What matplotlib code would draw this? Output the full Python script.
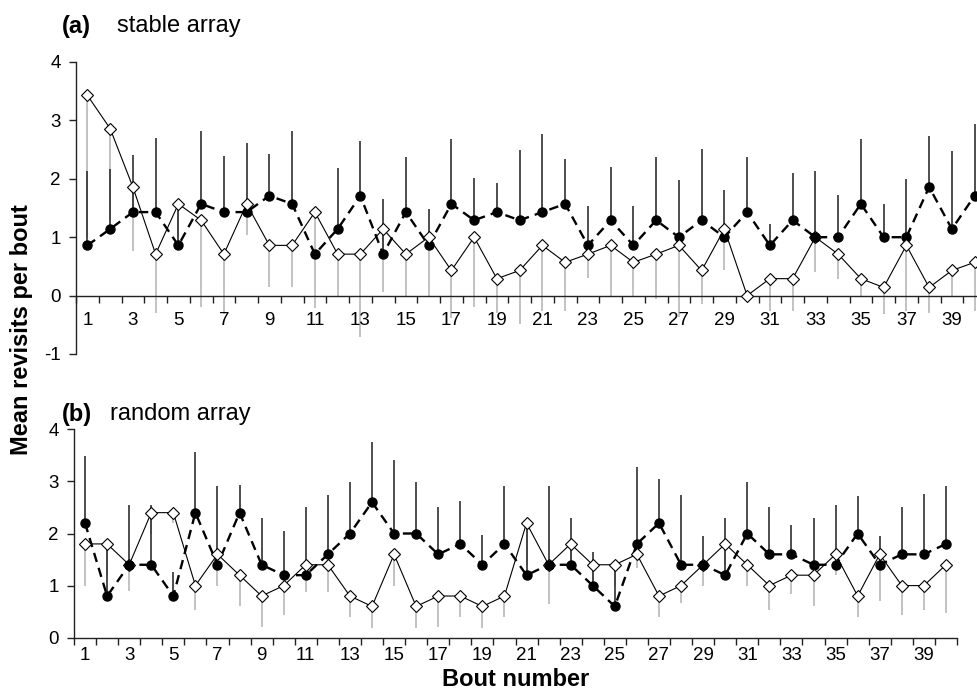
import numpy as np
import matplotlib
matplotlib.use("Agg")
import matplotlib.pyplot as plt

plt.rcParams['font.family'] = ['Liberation Sans', 'DejaVu Sans']
plt.rcParams['axes.unicode_minus'] = False

bouts = np.arange(1, 41)
tick_labels = [str(b) for b in range(1, 41, 2)]

# (a) stable array
stable_filled = [0.86, 1.14, 1.43, 1.43, 0.86, 1.57, 1.43, 1.43, 1.71, 1.57,
                 0.71, 1.14, 1.71, 0.71, 1.43, 0.86, 1.57, 1.29, 1.43, 1.29,
                 1.43, 1.57, 0.86, 1.29, 0.86, 1.29, 1.00, 1.29, 1.00, 1.43,
                 0.86, 1.29, 1.00, 1.00, 1.57, 1.00, 1.00, 1.86, 1.14, 1.71]
stable_filled_upper = [2.14, 2.16, 2.40, 2.70, 1.57, 2.81, 2.39, 2.61, 2.43, 2.82,
                       0.78, 2.19, 2.64, 1.66, 2.38, 1.49, 2.69, 2.01, 1.93, 2.49,
                       2.77, 2.34, 1.53, 2.21, 1.53, 2.38, 1.98, 2.51, 1.81, 2.38,
                       1.23, 2.10, 2.14, 1.73, 2.69, 1.56, 1.99, 2.74, 2.47, 2.94]
stable_open = [3.43, 2.86, 1.86, 0.71, 1.57, 1.29, 0.71, 1.57, 0.86, 0.86,
               1.43, 0.71, 0.71, 1.14, 0.71, 1.00, 0.43, 1.00, 0.29, 0.43,
               0.86, 0.57, 0.71, 0.86, 0.57, 0.71, 0.86, 0.43, 1.14, 0.00,
               0.29, 0.29, 1.00, 0.71, 0.29, 0.14, 0.86, 0.14, 0.43, 0.57]
stable_open_lower = [1.00, 1.30, 0.77, -0.29, 1.00, -0.20, -0.31, 1.03, 0.15, 0.14,
                     -0.21, 0.00, -0.71, 0.07, 0.00, 0.00, -0.38, -0.19, -0.29, -0.49,
                     -0.26, -0.26, 0.30, 0.00, 0.00, -0.06, -0.37, -0.14, 0.44, 0.00,
                     -0.26, -0.26, 0.40, 0.29, 0.00, -0.31, -0.26, -0.29, 0.00, -0.26]

# (b) random array
random_filled = [2.2, 0.8, 1.4, 1.4, 0.8, 2.4, 1.4, 2.4, 1.4, 1.2,
                 1.2, 1.6, 2.0, 2.6, 2.0, 2.0, 1.6, 1.8, 1.4, 1.8,
                 1.2, 1.4, 1.4, 1.0, 0.6, 1.8, 2.2, 1.4, 1.4, 1.2,
                 2.0, 1.6, 1.6, 1.4, 1.4, 2.0, 1.4, 1.6, 1.6, 1.8]
random_filled_upper = [3.49, 1.80, 2.55, 2.55, 1.26, 3.56, 2.91, 2.94, 2.30, 2.05,
                       2.51, 2.74, 2.99, 3.75, 3.41, 2.99, 2.50, 2.63, 1.97, 2.91,
                       2.20, 2.91, 2.30, 1.65, 1.40, 3.27, 3.05, 2.74, 1.96, 2.29,
                       2.99, 2.50, 2.16, 2.30, 2.55, 2.72, 1.96, 2.50, 2.75, 2.91]
random_open = [1.8, 1.8, 1.4, 2.4, 2.4, 1.0, 1.6, 1.2, 0.8, 1.0,
               1.4, 1.4, 0.8, 0.6, 1.6, 0.6, 0.8, 0.8, 0.6, 0.8,
               2.2, 1.4, 1.8, 1.4, 1.4, 1.6, 0.8, 1.0, 1.4, 1.8,
               1.4, 1.0, 1.2, 1.2, 1.6, 0.8, 1.6, 1.0, 1.0, 1.4]
random_open_lower = [1.00, 1.20, 0.90, 2.00, 2.20, 0.54, 1.00, 0.61, 0.21, 0.44,
                     0.88, 0.88, 0.40, 0.19, 0.99, 0.19, 0.21, 0.40, 0.19, 0.40,
                     1.40, 0.64, 1.50, 1.10, 1.00, 1.34, 0.40, 0.66, 1.00, 1.40,
                     1.00, 0.54, 0.83, 0.61, 1.20, 0.40, 0.71, 0.44, 0.53, 0.47]

W, H = 978, 700
fig = plt.figure(figsize=(W / 100, H / 100), dpi=100)

# axes rectangles in pixel terms: left, top (y of ymax), right (x of 40.5), bottom (y of ymin)
ax_a = fig.add_axes([76 / W, (H - 354) / H, (986 - 76) / W, (354 - 62) / H])
ax_b = fig.add_axes([74 / W, (H - 637.7) / H, (957 - 74) / W, (637.7 - 429.3) / H])

TICK_FS = 13.5


def draw_panel(ax, filled, filled_up, opn, opn_low):
    filled = np.asarray(filled)
    opn = np.asarray(opn)
    ax.vlines(bouts, opn, opn_low, colors='#b8b8b8', lw=1.2, zorder=1)
    ax.vlines(bouts, filled, filled_up, colors='#303030', lw=1.2, zorder=2)
    ax.plot(bouts, filled, color='black', lw=1.7, dashes=(4, 2.6),
            marker='o', ms=6.5, mfc='black', mec='black', zorder=3)
    ax.plot(bouts, opn, color='black', lw=0.8,
            marker='D', ms=5.8, mfc='white', mec='black', mew=0.8, zorder=4)
    same = np.isclose(filled, opn)
    ax.plot(bouts[same], filled[same], ls='none', marker='o', ms=6.5,
            mfc='black', mec='black', zorder=5)

    ax.set_xlim(0.5, 40.5)
    for s in ('top', 'right'):
        ax.spines[s].set_visible(False)
    for s in ('left', 'bottom'):
        ax.spines[s].set_linewidth(1.0)
        ax.spines[s].set_color('#222222')
    ax.patch.set_alpha(0)
    ax.set_xticks(np.arange(1, 41, 2))
    ax.set_xticklabels(tick_labels)
    ax.set_xticks(np.arange(0.5, 41, 1), minor=True)
    ax.tick_params(axis='x', which='major', length=0, labelsize=TICK_FS)
    ax.tick_params(axis='x', which='minor', length=5, width=1.0,
                   direction='out', color='#222222')
    ax.tick_params(axis='y', length=5, width=1.0, pad=6, labelsize=TICK_FS,
                   color='#222222')


draw_panel(ax_a, stable_filled, stable_filled_upper, stable_open, stable_open_lower)
ax_a.set_ylim(-1, 4)
ax_a.set_yticks(range(-1, 5))
ax_a.spines['bottom'].set_position(('data', 0))
ax_a.tick_params(axis='x', which='major', pad=12)

draw_panel(ax_b, random_filled, random_filled_upper, random_open, random_open_lower)
ax_b.set_ylim(0, 4)
ax_b.set_yticks(range(0, 5))
ax_b.tick_params(axis='x', which='major', pad=7)

fig.text(62 / W, 1 - 26 / H, '(a)', fontsize=17, fontweight='bold', va='center', ha='left')
fig.text(117 / W, 1 - 26 / H, 'stable array', fontsize=17, va='center', ha='left')
fig.text(62 / W, 1 - 414 / H, '(b)', fontsize=17, fontweight='bold', va='center', ha='left')
fig.text(110 / W, 1 - 414 / H, 'random array', fontsize=17, va='center', ha='left')
fig.text(22 / W, 1 - 330 / H, 'Mean revisits per bout', fontsize=17, fontweight='bold',
         rotation=90, va='center', ha='center')
fig.text(516 / W, 1 - 680 / H, 'Bout number', fontsize=17, fontweight='bold',
         va='center', ha='center')

fig.savefig('out.png', dpi=100)
